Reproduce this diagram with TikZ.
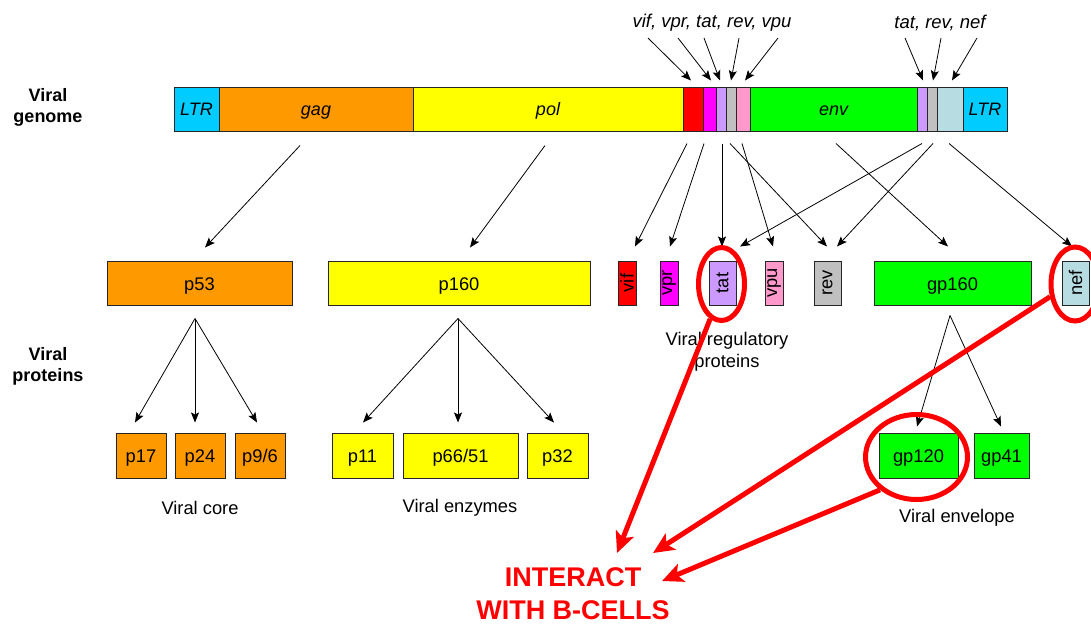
\documentclass[tikz,border=0pt]{standalone}
\usepackage{fontspec}
\setmainfont{Liberation Sans}
\usetikzlibrary{arrows.meta,shapes.geometric}

\definecolor{cLTR}{HTML}{00CCFF}
\definecolor{cGag}{HTML}{FF9900}
\definecolor{cPol}{HTML}{FFFF00}
\definecolor{cVif}{HTML}{FF0000}
\definecolor{cVpr}{HTML}{FF00FF}
\definecolor{cTat}{HTML}{CC99FF}
\definecolor{cRev}{HTML}{C0C0C0}
\definecolor{cVpu}{HTML}{FF99CC}
\definecolor{cEnv}{HTML}{00FF00}
\definecolor{cNef}{HTML}{B7DDE3}
\definecolor{cHot}{HTML}{FF0000}

\tikzset{
  txt/.style={inner sep=0pt, font=\fontsize{18.3}{21.5}\selectfont},
  seg/.style={draw=black!85, line width=1pt, minimum height=44pt, inner sep=0pt,
              text height=15.7pt, text depth=3.7pt,
              font=\fontsize{18}{21}\selectfont\itshape},
  prot/.style={draw=black!85, line width=1pt, minimum height=44pt, inner sep=0pt,
               font=\fontsize{18.3}{21.5}\selectfont},
  flat/.style={text height=17.7pt, text depth=3.7pt},
  sub/.style={prot, flat, minimum height=45pt},
  arr/.style={-{Stealth[length=10pt,width=8pt,inset=2pt]}, line width=0.8pt},
  ring/.style={ellipse, draw=cHot, line width=5pt, inner sep=0pt},
  hot/.style={draw=cHot, line width=5pt, -{Stealth[length=21pt,width=19pt,inset=5pt]}},
  side/.style={inner sep=0pt, align=center, font=\fontsize{18}{21}\selectfont\bfseries},
  call/.style={inner sep=0pt, anchor=base, text=cHot, font=\fontsize{27}{32}\selectfont\bfseries}
}

\begin{document}
\begin{tikzpicture}[x=1pt,y=-1pt]
\fill[white] (0,0) rectangle (1091,625);
\clip (0,0) rectangle (1091,625);

% row titles
\node[side] (tgen) at (48,107) {Viral\\genome};
\node[side] (tpro) at (48,366) {Viral\\proteins};

% genome map
\node[seg, fill=cLTR, minimum width=45pt]  (ltrL)  at (196.5,109) {LTR};
\node[seg, fill=cGag, minimum width=194pt] (gag)   at (316,109)   {gag};
\node[seg, fill=cPol, minimum width=270pt] (pol)   at (548,109)   {pol};
\node[seg, fill=cVif, minimum width=20pt]  (vifg)  at (693,109)   {};
\node[seg, fill=cVpr, minimum width=13pt]  (vprg)  at (709.5,109) {};
\node[seg, fill=cTat, minimum width=10pt]  (tatg)  at (721,109)   {};
\node[seg, fill=cRev, minimum width=10pt]  (revg)  at (731,109)   {};
\node[seg, fill=cVpu, minimum width=14pt]  (vpug)  at (743,109)   {};
\node[seg, fill=cEnv, minimum width=167pt] (env)   at (833.5,109) {env};
\node[seg, fill=cTat, minimum width=10pt]  (tatg2) at (922,109)   {};
\node[seg, fill=cRev, minimum width=10pt]  (revg2) at (932,109)   {};
\node[seg, fill=cNef, minimum width=26pt]  (nefg)  at (950,109)   {};
\node[seg, fill=cLTR, minimum width=44pt]  (ltrR)  at (985,109)   {LTR};

% gene labels above the map
\node[txt, font=\fontsize{18.5}{21.5}\selectfont\itshape] (lab1) at (712,23) {vif, vpr, tat, rev, vpu};
\node[txt, font=\fontsize{18.5}{21.5}\selectfont\itshape] (lab2) at (940,23) {tat, rev, nef};

\draw[arr] ([xshift=-64pt,yshift=-15pt]lab1.center) -- ([xshift=-2pt,yshift=6pt]vifg.north);
\draw[arr] ([xshift=-34pt,yshift=-15pt]lab1.center) -- ([xshift=1.5pt,yshift=6pt]vprg.north);
\draw[arr] ([xshift=-8pt,yshift=-15pt]lab1.center)  -- ([xshift=-1pt,yshift=6pt]tatg.north);
\draw[arr] ([xshift=27pt,yshift=-15pt]lab1.center)  -- ([yshift=6pt]revg.north);
\draw[arr] ([xshift=66pt,yshift=-15pt]lab1.center)  -- ([xshift=2pt,yshift=6pt]vpug.north);
\draw[arr] ([xshift=-35pt,yshift=-15pt]lab2.center) -- ([xshift=1pt,yshift=6pt]tatg2.north);
\draw[arr] ([xshift=1pt,yshift=-15pt]lab2.center)   -- ([xshift=1pt,yshift=6pt]revg2.north);
\draw[arr] ([xshift=37pt,yshift=-15pt]lab2.center)  -- ([xshift=2pt,yshift=6pt]nefg.north);

% precursor and regulatory proteins
\node[prot, flat, fill=cGag, minimum width=185pt] (p53)   at (199.5,283) {p53};
\node[prot, flat, fill=cPol, minimum width=262pt] (p160)  at (459,283)   {p160};
\node[prot, fill=cVif, minimum width=18pt]  (vif)   at (627,283)   {\rotatebox{90}{vif}};
\node[prot, fill=cVpr, minimum width=18pt]  (vpr)   at (669,283)   {\rotatebox{90}{vpr}};
\node[prot, fill=cTat, minimum width=27pt]  (tat)   at (722.5,283) {\rotatebox{90}{tat}};
\node[prot, fill=cVpu, minimum width=18pt]  (vpu)   at (774,283)   {\rotatebox{90}{vpu}};
\node[prot, fill=cRev, minimum width=27pt]  (rev)   at (827.5,283) {\rotatebox{90}{rev}};
\node[prot, flat, fill=cEnv, minimum width=157pt] (gp160) at (952.5,283) {gp160};
\node[prot, fill=cNef, minimum width=27pt]  (nef)   at (1075.5,283){\rotatebox{90}{nef}};

% genome to protein arrows
\draw[arr] ([xshift=-16pt,yshift=-14pt]gag.south)  -- ([xshift=5.5pt,yshift=13pt]p53.north);
\draw[arr] ([xshift=-3pt,yshift=-14pt]pol.south)   -- ([xshift=11pt,yshift=13pt]p160.north);
\draw[arr] ([xshift=-6pt,yshift=-12pt]vifg.south)  -- ([xshift=8pt,yshift=14pt]vif.north);
\draw[arr] ([xshift=-5.5pt,yshift=-12pt]vprg.south)-- ([xshift=1pt,yshift=14pt]vpr.north);
\draw[arr] ([xshift=1pt,yshift=-12pt]tatg.south)   -- ([xshift=-0.5pt,yshift=14pt]tat.north);
\draw[arr] ([xshift=-1pt,yshift=-12pt]revg.south)  -- ([xshift=-0.5pt,yshift=14pt]rev.north);
\draw[arr] ([xshift=-1pt,yshift=-12pt]vpug.south)  -- ([xshift=-1pt,yshift=14pt]vpu.north);
\draw[arr] ([xshift=2.5pt,yshift=-12pt]env.south)  -- ([xshift=-4.5pt,yshift=14pt]gp160.north);
\draw[arr] ([yshift=-12pt]tatg2.south)             -- ([xshift=17.5pt,yshift=14pt]tat.north);
\draw[arr] ([xshift=1pt,yshift=-12pt]revg2.south)  -- ([xshift=9.5pt,yshift=14pt]rev.north);
\draw[arr] ([xshift=-1pt,yshift=-12pt]nefg.south)  -- ([xshift=-3.5pt,yshift=14pt]nef.north);

% mature proteins
\node[sub, fill=cGag, minimum width=50pt]  (p17)   at (141,455.5)   {p17};
\node[sub, fill=cGag, minimum width=50pt]  (p24)   at (200,455.5)   {p24};
\node[sub, fill=cGag, minimum width=50pt]  (p96)   at (260,455.5)   {p9/6};
\node[sub, fill=cPol, minimum width=61pt]  (p11)   at (362.5,455.5) {p11};
\node[sub, fill=cPol, minimum width=115pt] (p6651) at (460.5,455.5) {p66/51};
\node[sub, fill=cPol, minimum width=61pt]  (p32)   at (557.5,455.5) {p32};
\node[sub, fill=cEnv, minimum width=79pt]  (gp120) at (918.5,455.5) {gp120};
\node[sub, fill=cEnv, minimum width=55pt]  (gp41)  at (1001.5,455.5){gp41};

\draw[arr] ([xshift=-4.5pt,yshift=-13pt]p53.south) -- ([xshift=-6pt,yshift=10pt]p17.north);
\draw[arr] ([xshift=-4.5pt,yshift=-13pt]p53.south) -- ([xshift=-5pt,yshift=10pt]p24.north);
\draw[arr] ([xshift=-4.5pt,yshift=-13pt]p53.south) -- ([xshift=-3pt,yshift=10pt]p96.north);
\draw[arr] ([xshift=-1pt,yshift=-13pt]p160.south)  -- ([xshift=0.5pt,yshift=10pt]p11.north);
\draw[arr] ([xshift=-1pt,yshift=-13pt]p160.south)  -- ([xshift=-2.5pt,yshift=10pt]p6651.north);
\draw[arr] ([xshift=-1pt,yshift=-13pt]p160.south)  -- ([xshift=-3.5pt,yshift=10pt]p32.north);
\draw[arr] ([xshift=-2.5pt,yshift=-10pt]gp160.south) -- ([xshift=-1.5pt,yshift=6pt]gp120.north);
\draw[arr] ([xshift=-2.5pt,yshift=-10pt]gp160.south) -- ([xshift=-0.5pt,yshift=6pt]gp41.north);

% group captions
\node[txt] (core) at (200,508) {Viral core};
\node[txt] (enz)  at (460,508) {Viral enzymes};
\node[txt, align=center] (reg) at (727,352) {Viral regulatory\\proteins};
\node[txt] (envl) at (957,518) {Viral envelope};

% highlighted proteins
\node[ring, minimum width=46pt, minimum height=73pt]  (ell1) at (721.5,284) {};
\node[ring, minimum width=48pt, minimum height=74pt]  (ell2) at (1075,284)  {};
\node[ring, minimum width=102pt, minimum height=85pt] (ell3) at (916.5,457) {};

\node[call] (bt1) at (573,586) {INTERACT};
\node[call] (bt2) at (573,619) {WITH B-CELLS};

\draw[hot] (ell1.-108) -- ([xshift=44pt,yshift=33pt]bt1.base);
\draw[hot] (ell2.207)  -- ([xshift=80pt,yshift=33pt]bt1.base);
\draw[hot] (ell3.222)  -- ([xshift=89pt,yshift=5pt]bt1.base);
\end{tikzpicture}
\end{document}
